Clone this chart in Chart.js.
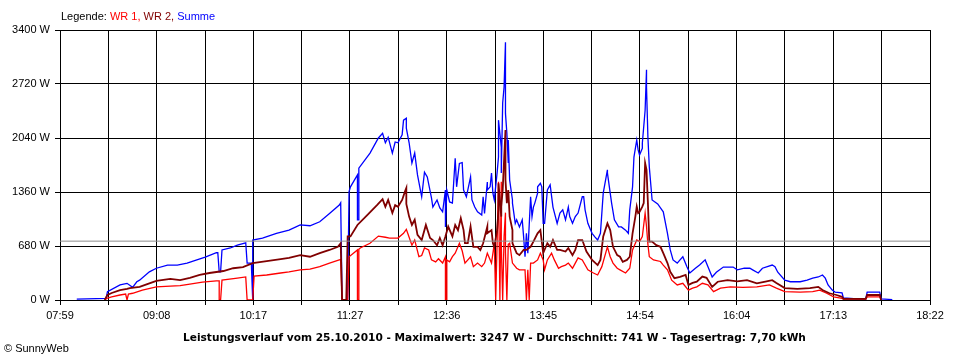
<!DOCTYPE html>
<html>
<head>
<meta charset="utf-8">
<script src="https://cdn.jsdelivr.net/npm/chart.js@4"></script>
<style>
  body { margin: 0; background: #fff; }
  #wrap { position: relative; width: 960px; height: 360px; font-family: "Liberation Sans", Arial, sans-serif; font-size: 11px; color: #000; }
  #mycanvas { position: absolute; left: 0; top: 0; }
  .txt { position: absolute; white-space: nowrap; line-height: 13px; }
</style>
</head>
<body>
<div id="wrap">
  <canvas id="mycanvas" width="960" height="360"></canvas>
  <div class="txt" style="left:61px;top:10px;">Legende: <span style="color:#ff0000">WR 1,</span> <span style="color:#800000">WR 2,</span> <span style="color:#0000ff">Summe</span></div>
  <div class="txt" id="footer" style="left:183px;top:331px;font-weight:bold;font-size:10.6px;font-family:'DejaVu Sans',Verdana,sans-serif;">Leistungsverlauf vom 25.10.2010 - Maximalwert: 3247 W - Durchschnitt: 741 W - Tagesertrag: 7,70 kWh</div>
  <div class="txt" style="left:4px;top:342px;">© SunnyWeb</div>
</div>
<script>
// axis labels
var xTickLabels = ['07:59', '09:08', '10:17', '11:27', '12:36', '13:45', '14:54', '16:04', '17:13', '18:22'];
var yTicks = [0, 680, 1360, 2040, 2720, 3400];
var avgWatts = 741;

// Summe
var sumTimes = ['08:11','08:32','08:33','08:42','08:47','08:51','08:54','08:56','09:03','09:08',
  '09:16','09:23','09:30','09:37','09:43','09:51','09:52','09:53','09:54','09:55',
  '10:01','10:06','10:12','10:13','10:16','10:17','10:17','10:24','10:34','10:43',
  '10:51','10:58','11:05','11:12','11:19','11:20','11:21','11:25','11:26','11:27',
  '11:32','11:32','11:33','11:33','11:41','11:47','11:50','11:52','11:54','11:57',
  '11:59','12:01','12:04','12:05','12:07','12:07','12:09','12:11','12:13','12:15',
  '12:18','12:20','12:22','12:25','12:26','12:29','12:31','12:33','12:35','12:35',
  '12:36','12:38','12:40','12:42','12:43','12:45','12:47','12:48','12:50','12:53',
  '12:54','12:56','12:58','13:01','13:02','13:03','13:05','13:05','13:07','13:08',
  '13:09','13:10','13:12','13:13','13:13','13:15','13:15','13:16','13:17','13:18',
  '13:18','13:19','13:20','13:20','13:21','13:23','13:23','13:25','13:26','13:28',
  '13:30','13:31','13:32','13:33','13:34','13:36','13:37','13:38','13:39','13:41',
  '13:41','13:43','13:44','13:45','13:46','13:48','13:50','13:52','13:55','13:57',
  '13:59','14:01','14:03','14:04','14:06','14:08','14:10','14:13','14:14','14:15',
  '14:17','14:20','14:22','14:24','14:26','14:28','14:31','14:31','14:34','14:36',
  '14:39','14:41','14:44','14:46','14:47','14:49','14:50','14:52','14:53','14:54',
  '14:56','14:56','14:58','14:59','14:59','15:00','15:01','15:03','15:07','15:10',
  '15:11','15:14','15:16','15:18','15:21','15:23','15:25','15:28','15:30','15:34',
  '15:37','15:41','15:43','15:46','15:49','15:54','16:01','16:04','16:09','16:13',
  '16:15','16:19','16:22','16:29','16:31','16:33','16:38','16:42','16:49','16:54',
  '16:58','17:02','17:05','17:07','17:09','17:12','17:14','17:19','17:20','17:30',
  '17:36','17:37','17:46','17:47','17:55'];
var sumWatts = [10,20,105,190,210,160,230,250,355,400,
  440,440,465,505,540,595,595,355,355,630,
  655,690,720,465,465,0,755,780,840,880,
  945,935,985,1090,1195,1225,0,0,1365,1425,
  1575,1010,1010,1660,1850,2040,2100,1980,2050,1850,
  1990,1980,2080,2265,2290,2165,1980,1725,1850,1575,
  1300,1610,1550,1285,1170,1260,1160,1110,1385,920,
  1385,1235,1220,1785,1425,1720,1730,1385,1300,1550,
  1260,1170,1110,1070,1300,1090,1485,1385,1425,1600,
  1345,1260,1600,1800,2265,1925,1600,2480,2680,3247,
  2350,2100,1725,2015,1510,1260,1220,965,1010,920,
  1010,795,545,840,590,1300,1050,1170,1220,1345,
  1425,1470,1425,965,965,1385,1450,1170,965,1095,
  1135,1010,1170,1050,965,1050,1095,1300,1300,1135,
  965,840,795,755,840,1345,1640,1600,1220,1010,
  920,920,880,840,1135,1425,1800,2015,1890,1825,
  1910,1975,2390,2900,2680,2050,1675,1260,1210,1135,
  1110,840,630,505,465,505,545,415,340,400,
  440,505,420,290,350,415,415,380,400,400,
  380,340,400,440,420,350,250,230,230,250,
  275,290,315,275,190,125,100,90,25,15,
  15,100,100,15,5];

// WR 2
var wr2Times = ['08:31','08:33','08:36','08:42','08:47','08:49','08:56','09:03','09:08','09:18',
  '09:25','09:32','09:39','09:46','09:56','10:03','10:10','10:17','10:27','10:37',
  '10:43','10:51','10:58','11:05','11:12','11:18','11:20','11:21','11:24','11:25',
  '11:27','11:32','11:39','11:46','11:50','11:52','11:54','11:57','11:59','12:01',
  '12:04','12:06','12:07','12:07','12:09','12:11','12:13','12:15','12:18','12:21',
  '12:24','12:26','12:29','12:31','12:33','12:35','12:37','12:40','12:42','12:44',
  '12:46','12:48','12:49','12:51','12:53','12:55','12:58','13:00','13:02','13:05',
  '13:05','13:08','13:09','13:10','13:12','13:13','13:13','13:15','13:15','13:16',
  '13:18','13:18','13:19','13:20','13:21','13:23','13:23','13:26','13:28','13:31',
  '13:33','13:36','13:38','13:41','13:43','13:45','13:48','13:50','13:52','13:55',
  '13:57','14:01','14:03','14:06','14:08','14:10','14:13','14:16','14:20','14:24',
  '14:26','14:28','14:31','14:33','14:35','14:38','14:40','14:42','14:45','14:47',
  '14:49','14:51','14:52','14:53','14:54','14:56','14:57','14:58','14:59','15:00',
  '15:01','15:03','15:06','15:09','15:11','15:14','15:16','15:19','15:23','15:27',
  '15:29','15:32','15:35','15:39','15:42','15:46','15:50','15:57','16:04','16:11',
  '16:18','16:25','16:29','16:32','16:38','16:47','16:56','17:02','17:05','17:10',
  '17:15','17:19','17:20','17:36','17:37','17:46','17:47'];
var wr2Watts = [0,63,88,125,140,150,165,210,240,265,
  250,280,315,340,365,400,415,465,490,515,
  530,565,545,590,630,670,715,0,0,800,
  800,945,1070,1195,1270,1175,1260,1095,1195,1175,
  1260,1365,1410,1210,1050,945,1010,820,755,945,
  780,755,690,780,690,800,925,800,945,880,
  1030,880,715,715,925,670,670,630,715,925,
  840,880,715,670,880,1135,1470,1050,1175,1385,
  2140,1510,1220,1385,1050,880,715,590,565,630,
  630,670,735,840,880,590,715,670,755,630,
  630,610,655,565,630,755,755,610,505,440,
  505,800,965,880,670,565,545,480,505,545,
  840,1050,1175,1095,1110,1175,1220,1725,1640,1220,
  735,735,690,670,590,465,355,275,290,315,
  190,215,230,295,280,165,230,250,235,250,
  210,235,250,215,150,140,150,165,125,85,
  63,40,15,15,63,63,0];

// WR 1
var wr1Times = ['08:31','08:33','08:36','08:42','08:46','08:47','08:48','08:51','08:58','09:08',
  '09:18','09:25','09:32','09:41','09:51','09:53','09:53','09:54','09:55','10:06',
  '10:12','10:13','10:17','10:18','10:27','10:37','10:43','10:51','10:58','11:05',
  '11:12','11:19','11:20','11:21','11:25','11:26','11:32','11:32','11:33','11:33',
  '11:34','11:41','11:47','11:52','11:55','12:01','12:05','12:07','12:08','12:11',
  '12:13','12:16','12:18','12:20','12:23','12:25','12:28','12:30','12:33','12:35',
  '12:35','12:36','12:36','12:38','12:40','12:42','12:45','12:47','12:49','12:53',
  '12:55','12:58','13:01','13:03','13:05','13:08','13:10','13:11','13:12','13:13',
  '13:14','13:15','13:15','13:16','13:17','13:18','13:18','13:19','13:20','13:21',
  '13:23','13:26','13:28','13:32','13:33','13:34','13:35','13:36','13:38','13:41',
  '13:43','13:45','13:46','13:48','13:51','13:53','13:56','13:58','14:01','14:03',
  '14:06','14:08','14:10','14:13','14:17','14:21','14:24','14:27','14:31','14:33',
  '14:35','14:38','14:40','14:44','14:47','14:49','14:52','14:54','14:56','14:58',
  '14:59','15:00','15:01','15:04','15:09','15:11','15:14','15:17','15:21','15:25',
  '15:29','15:32','15:35','15:39','15:43','15:47','15:52','15:59','16:08','16:18',
  '16:27','16:32','16:38','16:49','16:58','17:03','17:08','17:13','17:18','17:20',
  '17:36','17:37','17:46','17:47'];
var wr1Watts = [0,25,40,63,75,0,75,85,125,165,
  175,180,200,225,240,240,0,0,250,275,
  290,0,0,300,315,340,355,380,390,420,
  465,505,510,0,0,545,630,0,0,640,
  655,715,805,790,780,780,840,890,840,690,
  755,545,560,655,630,505,480,520,465,545,
  0,0,505,480,545,590,715,620,465,545,
  420,465,420,465,590,465,715,0,715,1490,
  0,1490,700,0,800,1100,600,0,700,715,
  465,400,380,380,0,380,0,465,465,505,
  590,505,380,505,590,505,400,420,440,465,
  400,465,530,505,380,340,315,420,670,545,
  465,400,380,340,400,630,755,735,800,1095,
  925,700,545,505,485,440,380,250,190,210,
  125,150,165,210,190,105,150,165,160,165,
  190,150,105,100,105,125,85,40,25,10,
  10,40,40,0];

function toMin(t) {
  var p = t.split(':');
  return parseInt(p[0], 10) * 60 + parseInt(p[1], 10);
}

function points(times, watts) {
  var out = [];
  for (var i in times) {
    out.push({ x: toMin(times[i]), y: watts[i] });
  }
  return out;
}

var xMin = toMin(xTickLabels[0]);
var xMax = toMin(xTickLabels[xTickLabels.length - 1]);

Chart.defaults.font.family = '"Liberation Sans", Arial, sans-serif';
Chart.defaults.font.size = 11;
Chart.defaults.color = '#000';

var chartdata = {
  datasets: [
    {
      label: 'Durchschnitt',
      data: [{ x: xMin, y: avgWatts }, { x: xMax, y: avgWatts }],
      borderColor: '#8c8c8c',
      borderWidth: 1
    },
    {
      label: 'WR 2',
      data: points(wr2Times, wr2Watts),
      borderColor: '#800000',
      borderWidth: 1.8
    },
    {
      label: 'WR 1',
      data: points(wr1Times, wr1Watts),
      borderColor: '#ff0000',
      borderWidth: 1.3
    },
    {
      label: 'Summe',
      data: points(sumTimes, sumWatts),
      borderColor: '#0000ff',
      borderWidth: 1.3
    }
  ]
};

var ctx = document.getElementById('mycanvas');

var LineGraph = new Chart(ctx, {
  type: 'line',
  data: chartdata,
  options: {
    responsive: false,
    animation: false,
    devicePixelRatio: 1,
    layout: { padding: { left: 0, right: 30, top: 30, bottom: 0 } },
    elements: {
      point: { radius: 0, hoverRadius: 0 },
      line: { tension: 0, fill: false }
    },
    plugins: {
      legend: { display: false },
      tooltip: { enabled: false }
    },
    scales: {
      x: {
        type: 'linear',
        min: xMin,
        max: xMax,
        afterBuildTicks: function(axis) {
          var t = [];
          for (var i = 0; i <= 18; i++) {
            t.push({ value: xMin + i * (xMax - xMin) / 18 });
          }
          axis.ticks = t;
        },
        afterFit: function(axis) { axis.height = 60; },
        ticks: {
          autoSkip: false,
          maxRotation: 0,
          padding: 4,
          callback: function(v, i) {
            return i % 2 === 0 ? xTickLabels[i / 2] : '';
          }
        },
        grid: { color: '#000', lineWidth: 1, tickLength: 5 },
        border: { color: '#000', width: 1 }
      },
      y: {
        min: 0,
        max: 3400,
        afterBuildTicks: function(axis) {
          axis.ticks = yTicks.map(function(v) { return { value: v }; });
        },
        afterFit: function(axis) { axis.width = 60; },
        ticks: {
          padding: 5,
          callback: function(v) { return v + ' W'; }
        },
        grid: { color: '#000', lineWidth: 1, tickLength: 5 },
        border: { color: '#000', width: 1 }
      }
    }
  }
});
</script>
</body>
</html>
